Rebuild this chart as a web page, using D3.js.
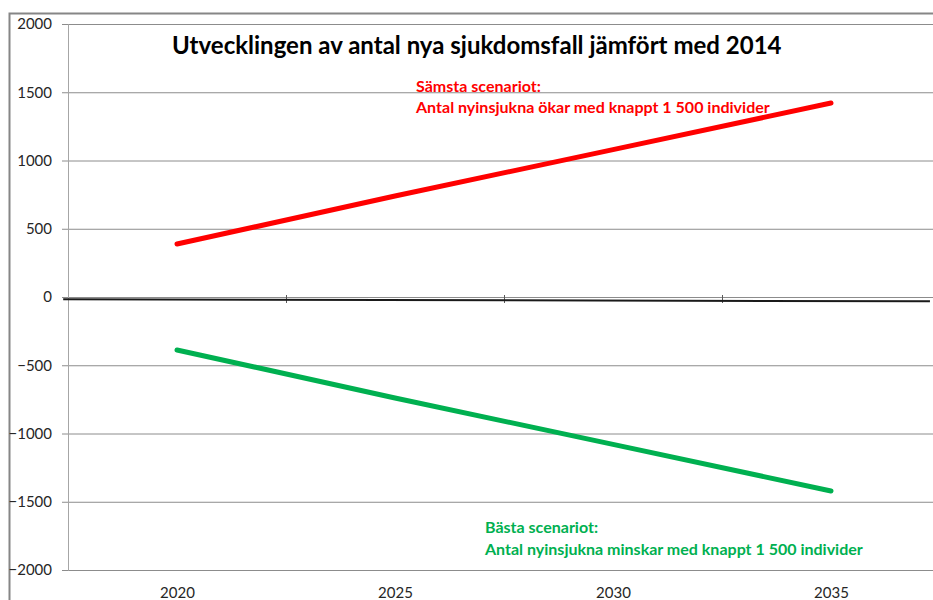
<!DOCTYPE html>
<html>
<head>
<meta charset="utf-8">
<script src="https://cdn.jsdelivr.net/npm/d3@7"></script>
<style>
  body { margin: 0; background: #fff; }
  svg { display: block; }
</style>
</head>
<body>
<svg id="chart"></svg>
<script>
const years = [2020, 2025, 2030, 2035];
const worstCase = [388, 740, 1080, 1421];
const bestCase = [-388, -740, -1080, -1421];
const yTicks = [2000, 1500, 1000, 500, 0, -500, -1000, -1500, -2000];
const xTicks = [2020, 2025, 2030, 2035];
const zeroTicks = [2022.5, 2027.5, 2032.5];
// hand-drawn black line near zero (year, value)
const baseline = [{ year: 2017.39, value: -16 }, { year: 2037.27, value: -32 }];

const title = 'Utvecklingen av antal nya sjukdomsfall jämfört med 2014';
const worstLabel = ['Sämsta scenariot:', 'Antal nyinsjukna ökar med knappt 1 500 individer'];
const bestLabel = ['Bästa scenariot:', 'Antal nyinsjukna minskar med knappt 1 500 individer'];

const width = 933;
const height = 600;
const margin = { top: 24, left: 68, bottom: 30 };
const plotBottom = 570;
const fontFamily = 'Lato, "Open Sans", sans-serif';

const svg = d3.select('#chart')
  .attr('width', width)
  .attr('height', height);

const xScale = d3.scaleLinear()
  .domain([2017.5, 2037.5])
  .range([margin.left, margin.left + 20 * 43.6]);

const yScale = d3.scaleLinear()
  .domain([-2000, 2000])
  .range([plotBottom, margin.top]);

// outer chart border
svg.append('rect')
  .attr('x', 9.5)
  .attr('y', 13.5)
  .attr('width', width)
  .attr('height', height)
  .attr('fill', 'none')
  .attr('stroke', '#868686')
  .attr('stroke-width', 2);

// gridlines
svg.append('g')
  .attr('transform', `translate(${margin.left},0)`)
  .call(d3.axisLeft(yScale).tickValues(yTicks).tickSize(-(width - margin.left)).tickFormat(''))
  .call(g => g.select('.domain').remove())
  .selectAll('line')
  .attr('stroke', '#8c8c8c');

// y axis
const yAxis = svg.append('g')
  .attr('transform', `translate(${margin.left},0)`)
  .call(d3.axisLeft(yScale).tickValues(yTicks).tickSize(6).tickPadding(10).tickFormat(d3.format('d')));
yAxis.select('.domain').attr('stroke', '#a6a6a6');
yAxis.selectAll('line').attr('stroke', '#8c8c8c');
yAxis.selectAll('text')
  .attr('font-family', fontFamily)
  .attr('font-size', 15)
  .attr('fill', '#262626');

// x labels at the bottom
const xAxis = svg.append('g')
  .attr('transform', `translate(0,${plotBottom})`)
  .call(d3.axisBottom(xScale).tickValues(xTicks).tickSize(0).tickPadding(17).tickFormat(d3.format('d')));
xAxis.select('.domain').remove();
xAxis.selectAll('text')
  .attr('font-family', fontFamily)
  .attr('font-size', 15)
  .attr('fill', '#262626');

// tick marks on the zero axis
svg.append('g')
  .attr('transform', `translate(0,${yScale(0) - 2})`)
  .call(d3.axisBottom(xScale).tickValues(zeroTicks).tickSize(8).tickFormat(''))
  .call(g => g.select('.domain').remove())
  .selectAll('line')
  .attr('stroke', '#595959');

// black line near zero
const lineBase = d3.line()
  .x(d => xScale(d.year))
  .y(d => yScale(d.value));
svg.append('path')
  .datum(baseline)
  .attr('fill', 'none')
  .attr('stroke', '#1a1a1a')
  .attr('stroke-width', 2)
  .attr('d', lineBase);

// series
const line = d3.line()
  .x(d => xScale(d[0]))
  .y(d => yScale(d[1]));

[[worstCase, '#ff0000'], [bestCase, '#00b050']].forEach(([values, color]) => {
  svg.append('path')
    .datum(d3.zip(years, values))
    .attr('fill', 'none')
    .attr('stroke', color)
    .attr('stroke-width', 5)
    .attr('stroke-linecap', 'round')
    .attr('stroke-linejoin', 'round')
    .attr('d', line);
});

// fit text to a target width by scaling the font size
const fitText = (sel, targetWidth) => {
  const size = +sel.attr('font-size');
  const w = sel.node().getComputedTextLength();
  sel.attr('font-size', size * targetWidth / w);
};

const titleText = svg.append('text')
  .attr('x', 172)
  .attr('y', 54)
  .attr('font-family', fontFamily)
  .attr('font-weight', 'bold')
  .attr('font-size', 20)
  .attr('fill', '#000')
  .text(title);
fitText(titleText, 610);

const addNote = (lines, x, y0, y1, targetWidth, color) => {
  const size = 14;
  const second = svg.append('text')
    .attr('x', x).attr('y', y1)
    .attr('font-family', fontFamily)
    .attr('font-weight', 'bold')
    .attr('font-size', size)
    .attr('fill', color)
    .text(lines[1]);
  fitText(second, targetWidth);
  svg.append('text')
    .attr('x', x).attr('y', y0)
    .attr('font-family', fontFamily)
    .attr('font-weight', 'bold')
    .attr('font-size', second.attr('font-size'))
    .attr('fill', color)
    .text(lines[0]);
};

addNote(worstLabel, 416, 92, 113, 354, '#ff0000');
addNote(bestLabel, 485, 533, 555, 378, '#00b050');
</script>
</body>
</html>
